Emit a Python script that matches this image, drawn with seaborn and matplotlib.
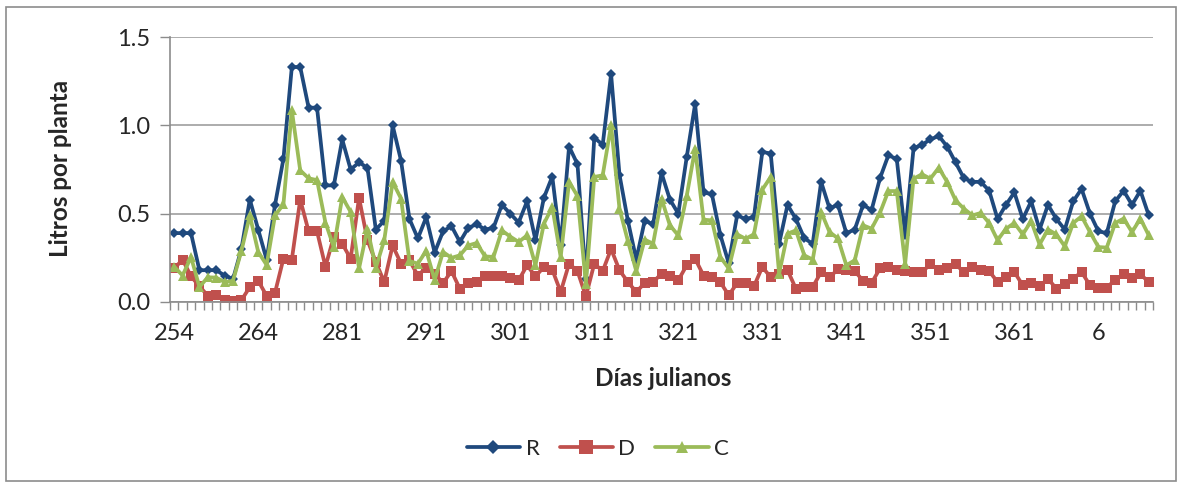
import numpy as np
import pandas as pd
import matplotlib
matplotlib.use("Agg")
import matplotlib.pyplot as plt
import seaborn as sns
from matplotlib.patches import Rectangle
from matplotlib.lines import Line2D

# ---- data ----
tick_labels = ["254", "264", "281", "291", "301", "311", "321", "331", "341", "351", "361", "6"]

R = [0.39, 0.39, 0.39, 0.18, 0.18, 0.18, 0.15, 0.13, 0.30, 0.58,
     0.41, 0.24, 0.55, 0.81, 1.33, 1.33, 1.10, 1.10, 0.66, 0.66,
     0.92, 0.75, 0.79, 0.76, 0.41, 0.46, 1.00, 0.80, 0.47, 0.36,
     0.48, 0.28, 0.40, 0.43, 0.34, 0.42, 0.44, 0.41, 0.42, 0.55,
     0.50, 0.45, 0.57, 0.35, 0.59, 0.71, 0.32, 0.88, 0.78, 0.13,
     0.93, 0.89, 1.29, 0.72, 0.46, 0.24, 0.46, 0.44, 0.73, 0.58,
     0.50, 0.82, 1.12, 0.62, 0.61, 0.38, 0.22, 0.49, 0.47, 0.48,
     0.85, 0.84, 0.33, 0.55, 0.47, 0.36, 0.33, 0.68, 0.53, 0.55,
     0.39, 0.41, 0.55, 0.52, 0.70, 0.83, 0.81, 0.38, 0.87, 0.89,
     0.92, 0.94, 0.88, 0.79, 0.70, 0.68, 0.68, 0.63, 0.47, 0.55,
     0.62, 0.47, 0.57, 0.41, 0.55, 0.47, 0.41, 0.57, 0.64, 0.50,
     0.40, 0.39, 0.57, 0.63, 0.55, 0.63, 0.49]

D = [0.19, 0.24, 0.145, 0.09, 0.035, 0.04, 0.013, 0.006, 0.01, 0.085,
     0.12, 0.035, 0.053, 0.245, 0.24, 0.58, 0.40, 0.40, 0.20, 0.37,
     0.33, 0.245, 0.59, 0.35, 0.226, 0.113, 0.32, 0.217, 0.236, 0.15,
     0.194, 0.16, 0.107, 0.175, 0.075, 0.107, 0.113, 0.145, 0.15, 0.145,
     0.138, 0.123, 0.208, 0.145, 0.198, 0.183, 0.057, 0.217, 0.175, 0.032,
     0.217, 0.175, 0.30, 0.18, 0.113, 0.057, 0.107, 0.113, 0.16, 0.15,
     0.123, 0.208, 0.245, 0.15, 0.14, 0.113, 0.038, 0.107, 0.107, 0.089,
     0.198, 0.14, 0.16, 0.18, 0.075, 0.085, 0.085, 0.17, 0.14, 0.185,
     0.183, 0.175, 0.12, 0.107, 0.19, 0.20, 0.183, 0.175, 0.17, 0.17,
     0.213, 0.183, 0.194, 0.213, 0.17, 0.20, 0.183, 0.175, 0.113, 0.14,
     0.17, 0.094, 0.107, 0.089, 0.132, 0.075, 0.10, 0.132, 0.17, 0.094,
     0.081, 0.081, 0.126, 0.157, 0.138, 0.157, 0.113]

C = [0.20, 0.15, 0.255, 0.085, 0.14, 0.138, 0.113, 0.12, 0.29, 0.49,
     0.283, 0.21, 0.49, 0.553, 1.085, 0.745, 0.70, 0.69, 0.45, 0.31,
     0.594, 0.51, 0.19, 0.415, 0.194, 0.35, 0.68, 0.585, 0.232, 0.217,
     0.29, 0.126, 0.283, 0.25, 0.264, 0.32, 0.334, 0.258, 0.255, 0.405,
     0.37, 0.34, 0.377, 0.208, 0.443, 0.538, 0.255, 0.68, 0.60, 0.104,
     0.708, 0.717, 1.0, 0.528, 0.345, 0.175, 0.353, 0.33, 0.585, 0.434,
     0.377, 0.60, 0.868, 0.466, 0.462, 0.255, 0.19, 0.383, 0.358, 0.383,
     0.636, 0.708, 0.16, 0.387, 0.405, 0.264, 0.24, 0.51, 0.396, 0.36,
     0.208, 0.236, 0.434, 0.415, 0.504, 0.628, 0.628, 0.217, 0.698, 0.723,
     0.698, 0.76, 0.68, 0.575, 0.528, 0.49, 0.504, 0.447, 0.35, 0.415,
     0.447, 0.383, 0.458, 0.326, 0.41, 0.383, 0.315, 0.447, 0.485, 0.396,
     0.311, 0.308, 0.447, 0.472, 0.396, 0.472, 0.377]

series_names = ["R", "D", "C"]
colors = {"R": "#1F497D", "D": "#C0504D", "C": "#9BBB59"}
markers = {"R": "D", "D": "s", "C": "^"}
msizes = {"R": 5, "D": 7, "C": 7}

n = len(R)
idx = np.arange(n)
df = pd.DataFrame({"i": np.tile(idx, 3),
                   "val": R + D + C,
                   "serie": np.repeat(series_names, n)})

sns.set_theme(style="white")
plt.rcParams["font.family"] = ["Lato", "DejaVu Sans"]

W, H = 1181, 484
fig = plt.figure(figsize=(W / 100, H / 100), dpi=100)
ax = fig.add_axes([170 / W, 1 - 302 / H, (1153 - 170) / W, (302 - 37) / H])

for s in series_names:
    sub = df[df["serie"] == s]
    sns.lineplot(data=sub, x="i", y="val", ax=ax, color=colors[s], lw=2.7,
                 marker=markers[s], markersize=msizes[s], markeredgewidth=0,
                 label=s, legend=False)

ax.set_xlim(-0.5, n - 0.5)
ax.set_ylim(0, 1.5)
ax.set_yticks([0, 0.5, 1.0, 1.5])
ax.set_yticklabels(["0.0", "0.5", "1.0", "1.5"], fontsize=17)
ax.yaxis.grid(True, color="#A6A6A6", lw=1.3)
ax.xaxis.grid(False)
ax.set_xticks(np.arange(0, n, 10))
ax.set_xticklabels(tick_labels, fontsize=17)
ax.set_xticks(np.arange(-0.5, n, 1), minor=True)
ax.tick_params(axis="x", which="major", length=0, pad=15)
ax.tick_params(axis="x", which="minor", length=6, width=1, color="#8C8C8C", direction="out", bottom=True)
ax.tick_params(axis="y", which="major", length=7, width=1, color="#8C8C8C", direction="out", left=True, pad=7)
for side in ["top", "right"]:
    ax.spines[side].set_visible(False)
for side in ["left", "bottom"]:
    ax.spines[side].set_color("#8C8C8C")
    ax.spines[side].set_linewidth(1.2)

ax.set_xlabel("")
ax.set_ylabel("")
fig.text(60 / W, 1 - 168 / H, "Litros por planta", rotation=90, ha="center", va="center",
         fontsize=17.5, fontweight="bold")
fig.text(663 / W, 1 - 378 / H, "Días julianos", ha="center", va="center",
         fontsize=17.5, fontweight="bold")

handles = [Line2D([0], [0], color=colors[s], lw=2.7, marker=markers[s],
                  markersize={"R": 7, "D": 10, "C": 8}[s], markeredgewidth=0) for s in series_names]
fig.legend(handles, series_names, loc="center", bbox_to_anchor=(598 / W, 1 - 449 / H),
           ncol=3, frameon=False, fontsize=16, handlelength=2.4, columnspacing=0.9,
           handletextpad=0.25)

fig.patches.append(Rectangle((6 / W, 1 - 481 / H), (1176 - 6) / W, (481 - 7) / H,
                             transform=fig.transFigure, fill=False, edgecolor="#8C8C8C", lw=1.2))

fig.savefig("out.png", dpi=100)
